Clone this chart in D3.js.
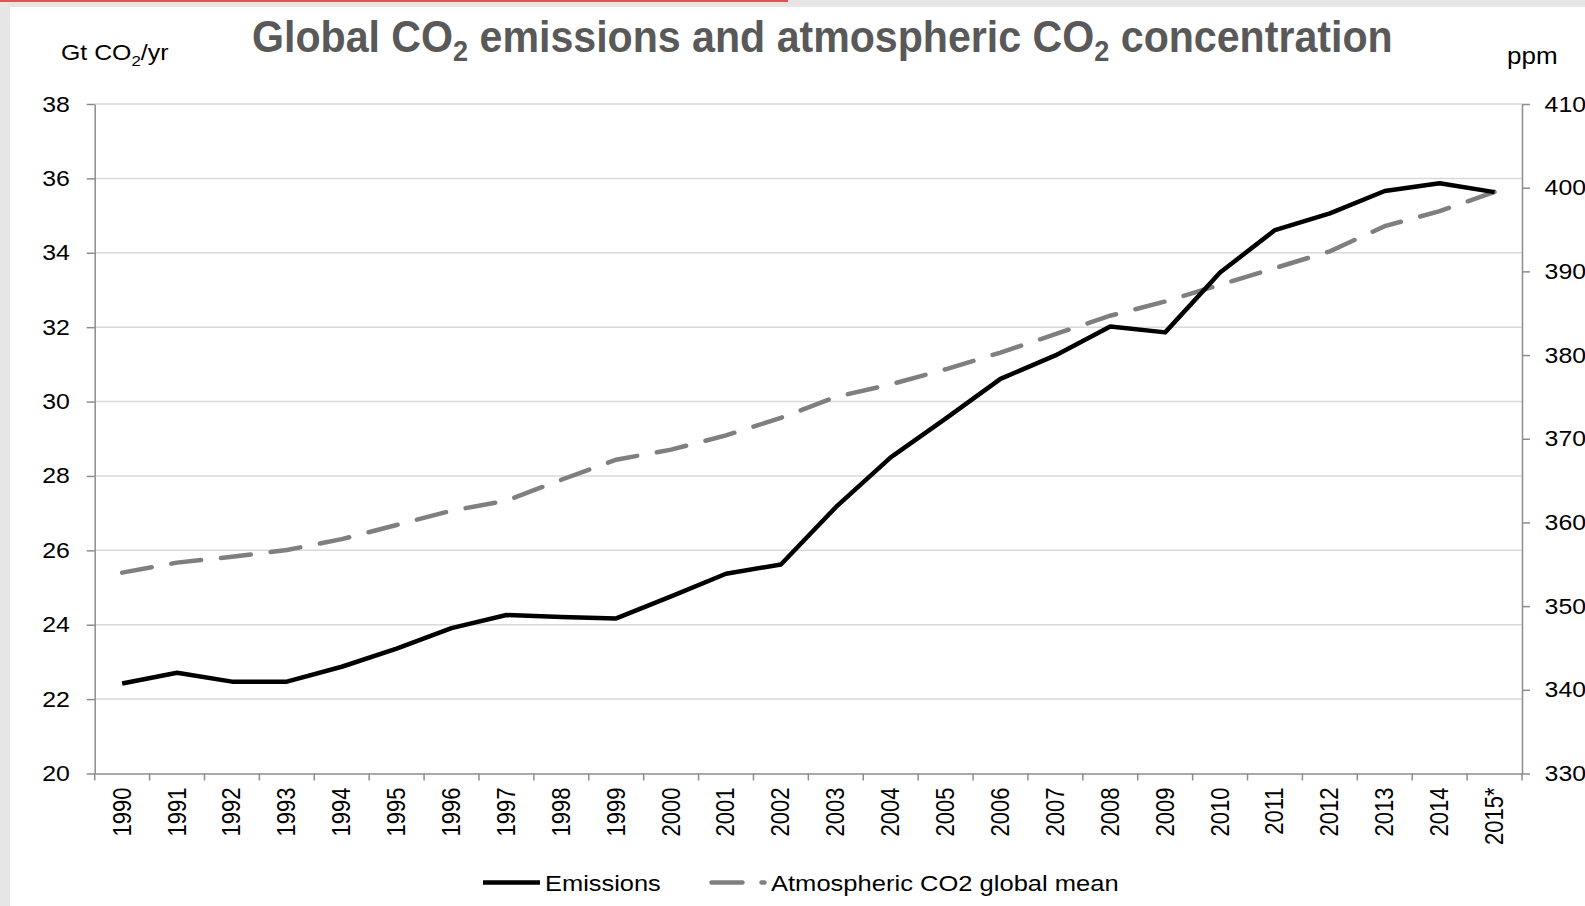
<!DOCTYPE html>
<html>
<head>
<meta charset="utf-8">
<script src="https://cdn.jsdelivr.net/npm/d3@7"></script>
<style>
  body { margin: 0; background: #fff; }
  svg { display: block; }
  text { font-family: "Liberation Sans", Arial, sans-serif; fill: #000; }
</style>
</head>
<body>
<div id="chart"></div>
<script>
// Data
const years = ["1990","1991","1992","1993","1994","1995","1996","1997","1998","1999",
  "2000","2001","2002","2003","2004","2005","2006","2007","2008","2009",
  "2010","2011","2012","2013","2014","2015*"];

// Gt CO2 per year (left axis)
const emissions = [22.42, 22.71, 22.47, 22.47, 22.87, 23.36, 23.91, 24.26, 24.21, 24.17,
  24.76, 25.37, 25.62, 27.16, 28.50, 29.54, 30.61, 31.24, 32.02, 31.86,
  33.47, 34.61, 35.06, 35.66, 35.87, 35.63];

// ppm (right axis)
const atmospheric = [354.0, 355.2, 355.9, 356.7, 358.0, 359.7, 361.4, 362.6, 365.1, 367.5,
  368.7, 370.4, 372.5, 375.0, 376.5, 378.3, 380.3, 382.5, 384.7, 386.4,
  388.4, 390.4, 392.4, 395.4, 397.2, 399.5];

const leftTicks = [20, 22, 24, 26, 28, 30, 32, 34, 36, 38];
const rightTicks = [330, 340, 350, 360, 370, 380, 390, 400, 410];

// Setting up sizes
const width = 1585;
const height = 906;
const plot = { left: 94.7, right: 1522, top: 104, bottom: 773.5 };
const STRETCH = 1.13;   // the original picture is a little wider than tall

const axisColor = "#8c8c8c";
const gridColor = "#d9d9d9";

const svg = d3.select("#chart")
  .append("svg")
  .attr("width", width)
  .attr("height", height);

// Frame of the slide
svg.append("rect").attr("x", 0).attr("y", 0).attr("width", width).attr("height", 7).attr("fill", "#e6e6e6");
svg.append("rect").attr("x", 0).attr("y", 0).attr("width", 10).attr("height", height).attr("fill", "#e6e6e6");
svg.append("rect").attr("x", 0).attr("y", 0).attr("width", 788).attr("height", 2).attr("fill", "#e4544b");

// Scales
const x = d3.scaleBand()
  .domain(years)
  .range([plot.left, plot.right]);

const yLeft = d3.scaleLinear()
  .domain([20, 38])
  .range([plot.bottom, plot.top]);

const yRight = d3.scaleLinear()
  .domain([330, 410])
  .range([plot.bottom, plot.top]);

const cx = d => x(d) + x.bandwidth() / 2;

// Gridlines
svg.append("g")
  .selectAll("line")
  .data(leftTicks.slice(1))
  .enter()
  .append("line")
  .attr("x1", plot.left)
  .attr("x2", plot.right)
  .attr("y1", d => yLeft(d))
  .attr("y2", d => yLeft(d))
  .attr("stroke", gridColor)
  .attr("stroke-width", 1.5);

function styleAxis(g) {
  g.select(".domain").attr("stroke", axisColor).attr("stroke-width", 1.5);
  g.selectAll(".tick line").attr("stroke", axisColor).attr("stroke-width", 1.5);
  g.selectAll(".tick text")
    .attr("font-size", 22)
    .attr("fill", "#000")
    .attr("font-family", "Liberation Sans, Arial, sans-serif");
}

// Left axis
const gLeft = svg.append("g")
  .attr("transform", `translate(${plot.left},0)`)
  .call(d3.axisLeft(yLeft).tickValues(leftTicks).tickSize(8).tickPadding(14).tickSizeOuter(0))
  .call(styleAxis);
gLeft.selectAll(".tick text")
  .attr("transform", `scale(${STRETCH},1)`);

// Right axis
const gRight = svg.append("g")
  .attr("transform", `translate(${plot.right},0)`)
  .call(d3.axisRight(yRight).tickValues(rightTicks).tickSize(8).tickPadding(12).tickSizeOuter(0))
  .call(styleAxis);
gRight.selectAll(".tick text")
  .attr("transform", `scale(${STRETCH},1)`);

// Bottom axis: labels at band centres, ticks at band edges
const gBottom = svg.append("g")
  .attr("transform", `translate(0,${plot.bottom})`)
  .call(d3.axisBottom(x).tickSize(0).tickPadding(0).tickSizeOuter(0))
  .call(styleAxis);
gBottom.selectAll(".tick text")
  .attr("text-anchor", "end")
  .attr("x", 0)
  .attr("y", 0)
  .attr("dy", 0)
  .attr("transform", `scale(${STRETCH},1) translate(0,14) rotate(-90) translate(0,7.5)`);

gBottom.append("g")
  .selectAll("line")
  .data(years.map(d => x(d)).concat([plot.right]))
  .enter()
  .append("line")
  .attr("x1", d => d)
  .attr("x2", d => d)
  .attr("y1", 0)
  .attr("y2", 7)
  .attr("stroke", axisColor)
  .attr("stroke-width", 1.5);

// Lines
const lineLeft = d3.line()
  .x((d, i) => cx(years[i]))
  .y(d => yLeft(d));

const lineRight = d3.line()
  .x((d, i) => cx(years[i]))
  .y(d => yRight(d));

svg.append("path")
  .datum(atmospheric)
  .attr("d", lineRight)
  .attr("fill", "none")
  .attr("stroke", "#7f7f7f")
  .attr("stroke-width", 4.5)
  .attr("stroke-linecap", "round")
  .attr("stroke-dasharray", "30,20");

svg.append("path")
  .datum(emissions)
  .attr("d", lineLeft)
  .attr("fill", "none")
  .attr("stroke", "#000")
  .attr("stroke-width", 4.5)
  .attr("stroke-linejoin", "round");

// Title
const title = svg.append("text")
  .attr("x", 0)
  .attr("y", 0)
  .attr("font-family", "Lato, 'Noto Sans', sans-serif")
  .attr("font-weight", 700)
  .attr("font-size", 44)
  .style("fill", "#595959");
title.append("tspan").text("Global CO");
title.append("tspan").attr("font-size", 29).attr("dy", 9).text("2");
title.append("tspan").attr("dy", -9).text(" emissions and atmospheric CO");
title.append("tspan").attr("font-size", 29).attr("dy", 9).text("2");
title.append("tspan").attr("dy", -9).text(" concentration");
const tw = title.node().getBBox().width;
title.attr("transform", `translate(252,52) scale(${1141 / tw},1)`);

// Axis titles
const unitLeft = svg.append("text")
  .attr("transform", `translate(61,60) scale(${STRETCH},1)`)
  .attr("font-size", 22);
unitLeft.append("tspan").text("Gt CO");
unitLeft.append("tspan").attr("font-size", 15).attr("dy", 6).text("2");
unitLeft.append("tspan").attr("dy", -6).text("/yr");

svg.append("text")
  .attr("transform", `translate(1507,64) scale(${STRETCH},1)`)
  .attr("font-size", 23)
  .text("ppm");

// Legend
const legendY = 882.5;
const legend = svg.append("g");

legend.append("line")
  .attr("x1", 483).attr("x2", 540)
  .attr("y1", legendY).attr("y2", legendY)
  .attr("stroke", "#000")
  .attr("stroke-width", 4.5);

legend.append("text")
  .attr("transform", `translate(545,${legendY + 8.5}) scale(${STRETCH},1)`)
  .attr("font-size", 22.5)
  .text("Emissions");

legend.append("line")
  .attr("x1", 711.5).attr("x2", 764.5)
  .attr("y1", legendY).attr("y2", legendY)
  .attr("stroke", "#7f7f7f")
  .attr("stroke-width", 4.5)
  .attr("stroke-linecap", "round")
  .attr("stroke-dasharray", "31,19");

legend.append("text")
  .attr("transform", `translate(771,${legendY + 8.5}) scale(${STRETCH},1)`)
  .attr("font-size", 22.6)
  .text("Atmospheric CO2 global mean");
</script>
</body>
</html>
